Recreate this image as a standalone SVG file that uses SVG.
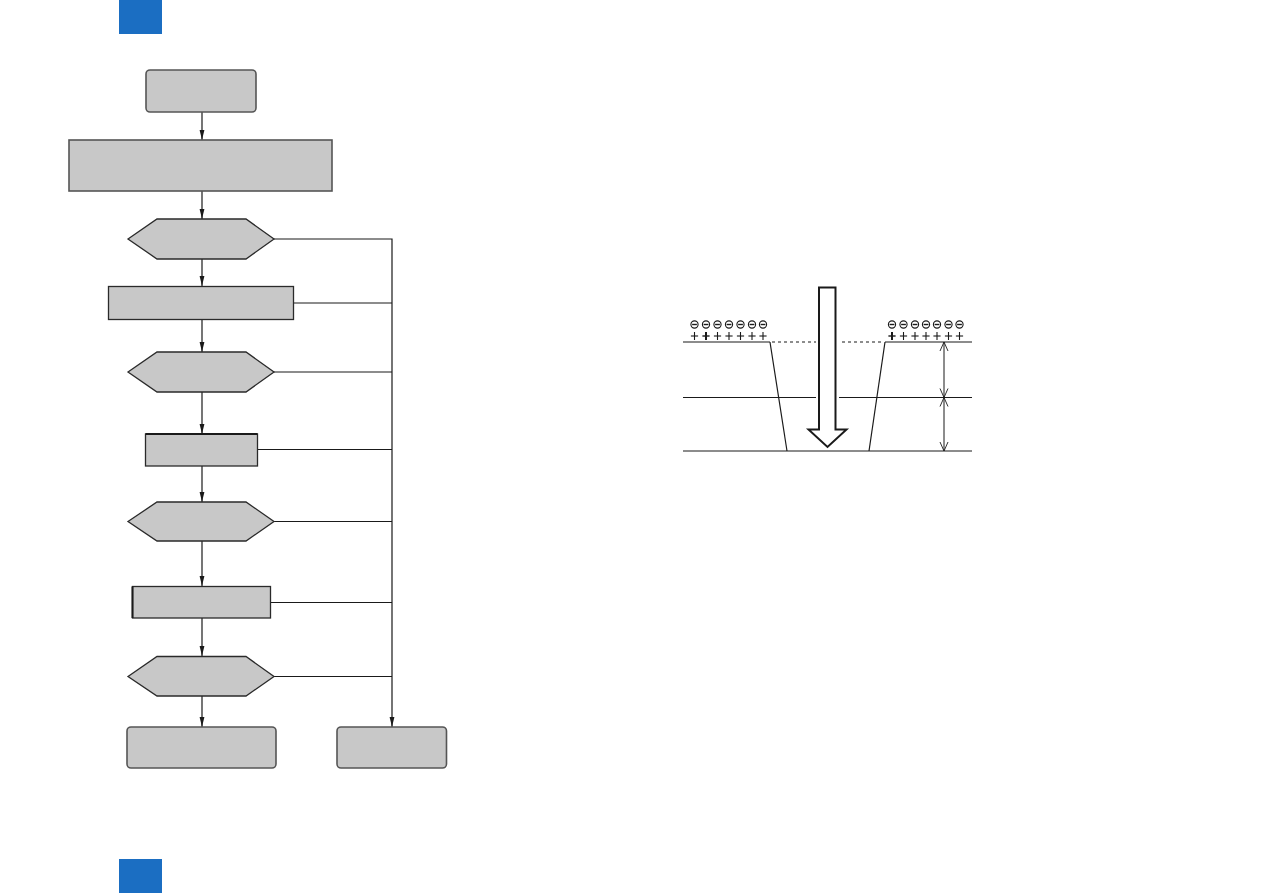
<svg xmlns="http://www.w3.org/2000/svg" xmlns:xlink="http://www.w3.org/1999/xlink" width="1263" height="893" viewBox="0 0 1263 893">
<style>
.n{fill:#c8c8c8;stroke:#2a2a2a;stroke-width:1.3}
.r{fill:#c8c8c8;stroke:#555;stroke-width:1.6}
.c{fill:none;stroke:#1a1a1a;stroke-width:1.2}
.l{fill:none;stroke:#1a1a1a;stroke-width:1.2}
.d{fill:none;stroke:#1a1a1a;stroke-width:1;stroke-dasharray:3,3}
.blue{fill:#1b6ec2}
</style>
<defs>
<marker id="ah" markerWidth="11" markerHeight="6" refX="10" refY="3" orient="auto" markerUnits="userSpaceOnUse" viewBox="0 0 11 6">
<path d="M0,0.6 L10,3 L0,5.4 Z" fill="#1a1a1a"/>
</marker>
<marker id="vh" markerWidth="10" markerHeight="10" refX="0" refY="0" orient="auto-start-reverse" markerUnits="userSpaceOnUse" viewBox="-10 -5 10 10" overflow="visible">
<path d="M-9,-4 L0,0 L-9,4" fill="none" stroke="#1a1a1a" stroke-width="0.9"/>
</marker>
<g id="neg"><circle r="3.6" fill="#fff" stroke="#1a1a1a" stroke-width="1.1"/><line x1="-2.4" y1="0" x2="2.4" y2="0" stroke="#1a1a1a" stroke-width="1.4"/></g>
<g id="pos"><line x1="-3.6" y1="0" x2="3.6" y2="0" stroke="#1a1a1a" stroke-width="1.1"/><line x1="0" y1="-4" x2="0" y2="4" stroke="#1a1a1a" stroke-width="1.1"/></g>
<g id="posb"><line x1="-3.6" y1="0" x2="3.6" y2="0" stroke="#1a1a1a" stroke-width="1.4"/><line x1="0" y1="-4" x2="0" y2="4" stroke="#1a1a1a" stroke-width="2"/></g>
</defs>
<rect class="blue" x="119" y="0" width="43" height="34"/>
<rect class="blue" x="119" y="859" width="43" height="34"/>

<g id="connectors">
<line class="c" x1="202" y1="112" x2="202" y2="140" marker-end="url(#ah)"/>
<line class="c" x1="202" y1="191" x2="202" y2="219" marker-end="url(#ah)"/>
<line class="c" x1="202" y1="259" x2="202" y2="286" marker-end="url(#ah)"/>
<line class="c" x1="202" y1="319" x2="202" y2="352" marker-end="url(#ah)"/>
<line class="c" x1="202" y1="392" x2="202" y2="434" marker-end="url(#ah)"/>
<line class="c" x1="202" y1="466" x2="202" y2="502" marker-end="url(#ah)"/>
<line class="c" x1="202" y1="541" x2="202" y2="586" marker-end="url(#ah)"/>
<line class="c" x1="202" y1="618" x2="202" y2="656" marker-end="url(#ah)"/>
<line class="c" x1="202" y1="696" x2="202" y2="727" marker-end="url(#ah)"/>
<polyline class="c" points="274,239 392,239 392,727" marker-end="url(#ah)"/>
<line class="c" x1="293" y1="303" x2="392" y2="303"/>
<line class="c" x1="274" y1="372" x2="392" y2="372"/>
<line class="c" x1="257" y1="449.5" x2="392" y2="449.5"/>
<line class="c" x1="274" y1="521.5" x2="392" y2="521.5"/>
<line class="c" x1="270" y1="602.5" x2="392" y2="602.5"/>
<line class="c" x1="274" y1="676.5" x2="392" y2="676.5"/>
</g>

<g id="start"><rect class="r" x="146" y="70" width="110" height="42" rx="4"/></g>
<g id="step1"><rect class="r" x="69" y="140" width="263" height="51"/></g>
<g id="check1"><polygon class="n" points="128,239 157,219 246,219 274,239 246,259 157,259"/></g>
<g id="step2"><rect class="n" x="108.5" y="286.5" width="185" height="33"/></g>
<g id="check2"><polygon class="n" points="128,372 157,352 246,352 274,372 246,392 157,392"/></g>
<g id="step3"><rect class="n" x="145.5" y="434" width="112" height="32"/><line x1="145.5" y1="434" x2="257.5" y2="434" stroke="#1a1a1a" stroke-width="2"/></g>
<g id="check3"><polygon class="n" points="128,521.5 157,502 246,502 274,521.5 246,541 157,541"/></g>
<g id="step4"><rect class="n" x="132.5" y="586.5" width="138" height="31.5"/><line x1="132.5" y1="586.5" x2="132.5" y2="618" stroke="#1a1a1a" stroke-width="2"/></g>
<g id="check4"><polygon class="n" points="128,676.5 157,656.5 246,656.5 274,676.5 246,696 157,696"/></g>
<g id="endLeft"><rect class="r" x="127" y="727" width="149" height="41" rx="4"/></g>
<g id="endRight"><rect class="r" x="337" y="727" width="109.5" height="41" rx="4"/></g>

<g id="layers">
<line class="l" x1="683" y1="342" x2="770" y2="342"/>
<line class="d" x1="772" y1="342" x2="816" y2="342"/>
<line class="d" x1="842" y1="342" x2="884" y2="342"/>
<line class="l" x1="885" y1="342" x2="972" y2="342"/>
<line class="l" x1="683" y1="397.5" x2="816" y2="397.5"/>
<line class="l" x1="839" y1="397.5" x2="972" y2="397.5"/>
<line class="l" x1="683" y1="451" x2="972" y2="451"/>
<line class="l" x1="770" y1="342" x2="787" y2="451"/>
<line class="l" x1="885" y1="342" x2="869" y2="451"/>
<polygon points="819,287.5 835.5,287.5 835.5,429.5 846.5,429.5 827.5,447 808.5,429.5 819,429.5" fill="#fff" stroke="#1a1a1a" stroke-width="2"/>
<line class="l" x1="944" y1="342" x2="944" y2="397.5" marker-start="url(#vh)" marker-end="url(#vh)" style="stroke-width:1"/>
<line class="l" x1="944" y1="397.5" x2="944" y2="451" marker-start="url(#vh)" marker-end="url(#vh)" style="stroke-width:1"/>
</g>

<g id="chargesLeft">
<use xlink:href="#neg" x="694.5" y="324.5"/><use xlink:href="#neg" x="706" y="324.5"/><use xlink:href="#neg" x="717.5" y="324.5"/><use xlink:href="#neg" x="729" y="324.5"/><use xlink:href="#neg" x="740.5" y="324.5"/><use xlink:href="#neg" x="752" y="324.5"/><use xlink:href="#neg" x="763" y="324.5"/>
<use xlink:href="#pos" x="694.5" y="336"/><use xlink:href="#posb" x="706" y="336"/><use xlink:href="#pos" x="717.5" y="336"/><use xlink:href="#pos" x="729" y="336"/><use xlink:href="#pos" x="740.5" y="336"/><use xlink:href="#pos" x="752" y="336"/><use xlink:href="#pos" x="763" y="336"/>
</g>
<g id="chargesRight">
<use xlink:href="#neg" x="892" y="324.5"/><use xlink:href="#neg" x="903.5" y="324.5"/><use xlink:href="#neg" x="915" y="324.5"/><use xlink:href="#neg" x="926" y="324.5"/><use xlink:href="#neg" x="937" y="324.5"/><use xlink:href="#neg" x="948.5" y="324.5"/><use xlink:href="#neg" x="959.5" y="324.5"/>
<use xlink:href="#posb" x="892" y="336"/><use xlink:href="#pos" x="903.5" y="336"/><use xlink:href="#pos" x="915" y="336"/><use xlink:href="#pos" x="926" y="336"/><use xlink:href="#pos" x="937" y="336"/><use xlink:href="#pos" x="948.5" y="336"/><use xlink:href="#pos" x="959.5" y="336"/>
</g>
</svg>
